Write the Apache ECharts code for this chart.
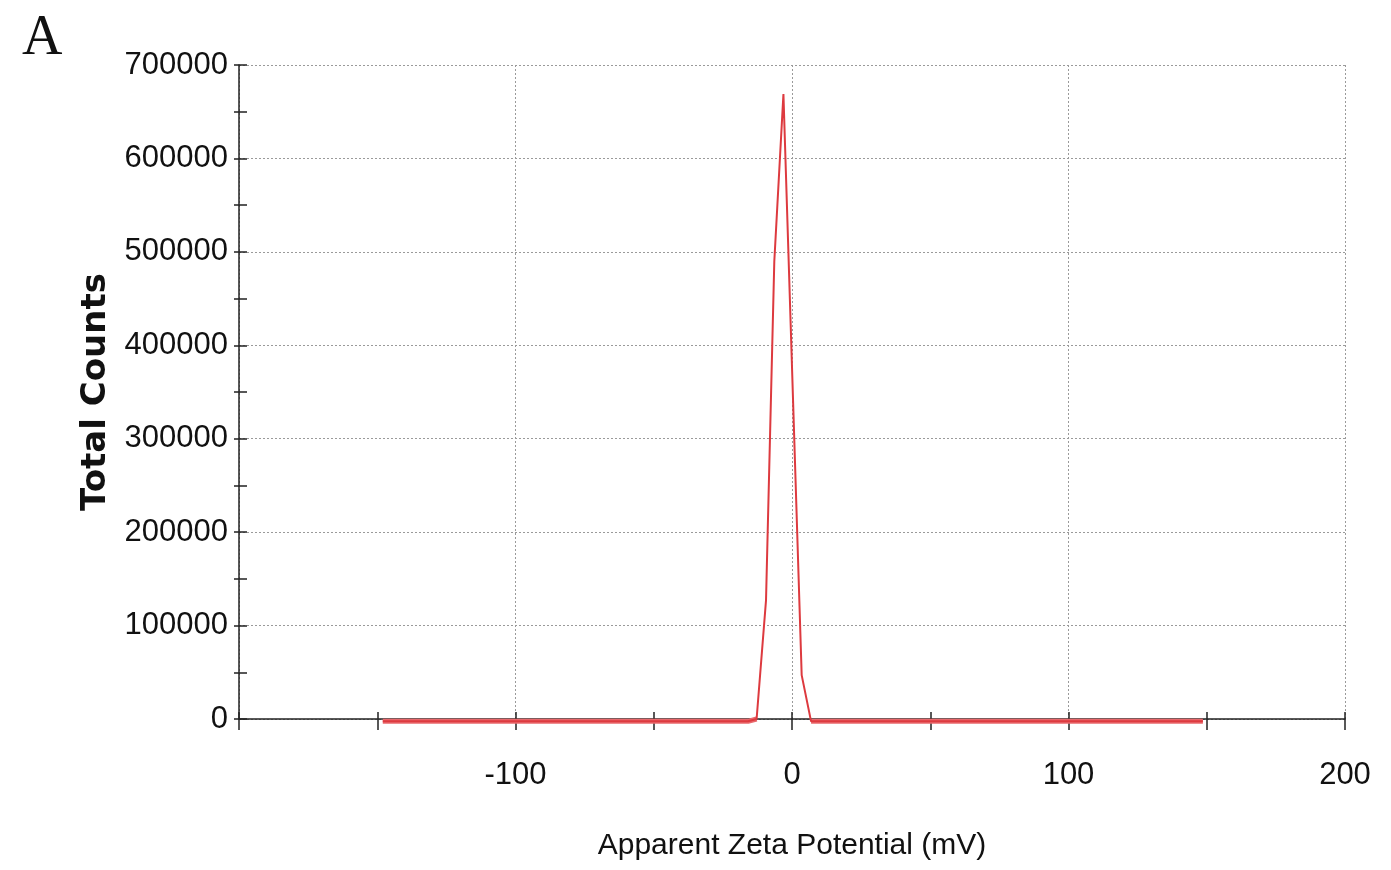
<!DOCTYPE html>
<html>
<head>
<meta charset="utf-8">
<script src="https://cdn.jsdelivr.net/npm/echarts@6/dist/echarts.min.js"></script>
<style>
html,body{margin:0;padding:0;background:#fff;}
#chart{width:1391px;height:870px;}
</style>
</head>
<body>
<div id="chart"></div>
<script>
// Data
var zetaPotential = [-148, -15.9, -12.8, -9.4, -6.4, -3.1, 3.5, 6.9, 148.6];
var totalCounts   = [-2500, -2500, 0, 127000, 490000, 669000, 47000, -2500, -2500];
var xTickLabels = ['-100', '0', '100', '200'];
var yTickLabels = ['0','100000','200000','300000','400000','500000','600000','700000'];

var lineData = zetaPotential.map(function (x, i) { return [x, totalCounts[i]]; });
var baseData = zetaPotential.map(function (x, i) { return totalCounts[i] <= 0 ? [x, totalCounts[i]] : [x, null]; });

var chart = echarts.init(document.getElementById('chart'));
var sans = 'Liberation Sans, Arial, sans-serif';
var gridLine = { show: true, lineStyle: { color: '#9a9a9a', type: [2, 2], width: 1 } };
var tickStyle = { color: '#222', width: 1.5 };

chart.setOption({
  animation: false,
  backgroundColor: '#fff',
  title: {
    text: 'A', left: 17, top: 6,
    textStyle: { fontFamily: 'Liberation Serif, Times New Roman, serif', fontWeight: 'normal', fontSize: 56, color: '#111' }
  },
  grid: { left: 239, right: 46, top: 65, bottom: 151 },
  xAxis: [{
    type: 'value', min: -200, max: 200, interval: 100,
    name: 'Apparent Zeta Potential (mV)', nameLocation: 'middle', nameGap: 112,
    nameTextStyle: { fontFamily: sans, fontSize: 30, color: '#111' },
    axisLine: { show: true, onZero: false, lineStyle: tickStyle },
    axisTick: { show: true, inside: false, length: 11, lineStyle: tickStyle },
    minorTick: { show: true, splitNumber: 2, length: 11, lineStyle: tickStyle },
    splitLine: gridLine,
    axisLabel: {
      margin: 41, fontFamily: sans, fontSize: 31, color: '#111',
      formatter: function (v) { var s = String(v); return xTickLabels.indexOf(s) >= 0 ? s : ''; }
    }
  }, {
    type: 'value', min: -200, max: 200, interval: 100, position: 'bottom',
    axisLine: { show: false, onZero: false },
    axisTick: { show: true, inside: true, length: 7, lineStyle: tickStyle },
    minorTick: { show: true, splitNumber: 2, length: 7, lineStyle: tickStyle },
    splitLine: { show: false }, axisLabel: { show: false }
  }],
  yAxis: [{
    type: 'value', min: 0, max: 700000, interval: 100000,
    name: 'Total Counts', nameLocation: 'middle', nameGap: 92, nameRotate: 90,
    nameTextStyle: { fontFamily: 'DejaVu Sans, sans-serif', fontWeight: 'bold', fontSize: 34, color: '#111' },
    axisLine: { show: true, onZero: false, lineStyle: tickStyle },
    axisTick: { show: true, inside: false, length: 5, lineStyle: tickStyle },
    minorTick: { show: true, splitNumber: 2, length: 5, lineStyle: tickStyle },
    splitLine: gridLine,
    axisLabel: {
      margin: 11, fontFamily: sans, fontSize: 31, color: '#111',
      formatter: function (v) { var s = String(v); return yTickLabels.indexOf(s) >= 0 ? s : ''; }
    }
  }, {
    type: 'value', min: 0, max: 700000, interval: 100000, position: 'left',
    axisLine: { show: false, onZero: false },
    axisTick: { show: true, inside: true, length: 8, lineStyle: tickStyle },
    minorTick: { show: true, splitNumber: 2, length: 8, lineStyle: tickStyle },
    splitLine: { show: false }, axisLabel: { show: false }
  }],
  series: [{
    type: 'line', xAxisIndex: 0, yAxisIndex: 0, clip: false,
    data: baseData, showSymbol: false, symbol: 'none', connectNulls: false,
    lineStyle: { color: '#e9686c', width: 5 }, z: 2
  }, {
    type: 'line', xAxisIndex: 0, yAxisIndex: 0, clip: false,
    data: lineData, showSymbol: false, symbol: 'none',
    lineStyle: { color: '#dd3a3f', width: 2 }, z: 3
  }]
});
</script>
</body>
</html>
